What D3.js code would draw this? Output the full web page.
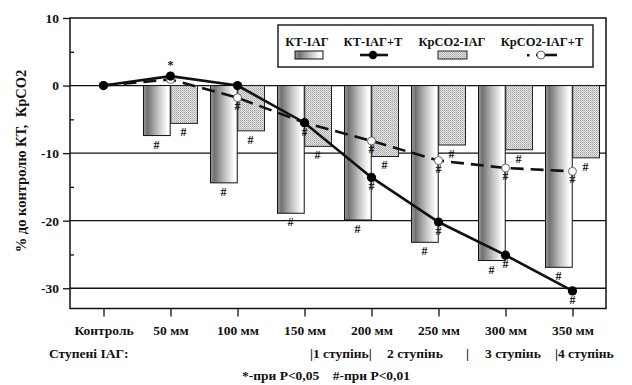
<!DOCTYPE html>
<html><head><meta charset="utf-8">
<script src="https://cdn.jsdelivr.net/npm/d3@7/dist/d3.min.js"></script>
<style>body{margin:0;background:#fff}svg{display:block}svg text{font-family:"Liberation Serif","Times New Roman",serif !important;font-weight:bold;fill:#111;white-space:pre}</style>
</head><body>
<script>
const categories = ["Контроль","50 мм","100 мм","150 мм","200 мм","250 мм","300 мм","350 мм"];
const ktIag      = [null,-7.4,-14.4,-18.9,-19.9,-23.2,-25.9,-26.9];
const co2Iag     = [null,-5.6,-6.7,-9.0,-10.5,-8.8,-9.5,-10.7];
const ktIagT     = [0,1.4,0,-5.5,-13.6,-20.2,-25.1,-30.4];
const co2IagT    = [0,0.9,-1.8,-5.5,-8.2,-11.1,-12.2,-12.7];
const ktIagMark  = ["","#","#","#","#","#","#","#"];
const co2IagMark = ["","#","#","#","#","#","#","#"];
const ktIagTMark = ["","*","","#","#","#","#","#"];
const co2IagTMark= ["","","#","","#","#","#","#"];
const yTicks = [10,0,-10,-20,-30];
const yMinor = [5,-5,-15,-25];
const gridVals = [0,-10,-20,-30];
const legendLabels = ["КТ-ІАГ","КТ-ІАГ+Т","КрCO2-ІАГ","КрCO2-ІАГ+Т"];
const stageLabels = [["|1 ступінь|",310],["2 ступінь",387],["|",466],["3 ступінь",485],["|4 ступінь",555]];

const W=632,H=385, L=70,R=606,T=18,B=308.5;
const svg=d3.select("body").append("svg").attr("width",W).attr("height",H);
const defs=svg.append("defs");
const g1=defs.append("linearGradient").attr("id","ktgrad").attr("x1","0").attr("x2","1").attr("y1","0").attr("y2","0");
[[0,"#9a9a9a"],[0.15,"#727272"],[0.55,"#c4c4c4"],[0.9,"#ffffff"],[1,"#ffffff"]].forEach(s=>g1.append("stop").attr("offset",s[0]).attr("stop-color",s[1]));
const pat=defs.append("pattern").attr("id","dots").attr("width",2).attr("height",2).attr("patternUnits","userSpaceOnUse");
pat.append("rect").attr("width",2).attr("height",2).attr("fill","#e2e2e2");
pat.append("rect").attr("width",1).attr("height",1).attr("fill","#a8a8a8");
pat.append("rect").attr("x",1).attr("y",1).attr("width",1).attr("height",1).attr("fill","#bdbdbd");

const x=d3.scalePoint().domain(categories).range([L,R]).padding(0.5);
const y=d3.scaleLinear().domain([-33,10]).range([B,T]);
const sub=d3.scaleBand().domain(["kt","co2"]).range([-27,27]).paddingInner(0.02);

// gridlines
svg.append("g").selectAll("line").data(gridVals).join("line")
 .attr("x1",L).attr("x2",R).attr("y1",d=>y(d)).attr("y2",d=>y(d)).attr("stroke","#111").attr("stroke-width",1.3);

// bars
const idx=d3.range(categories.length);
svg.append("g").selectAll("rect").data(idx.filter(i=>ktIag[i]!=null)).join("rect")
 .attr("x",i=>x(categories[i])+sub("kt")).attr("width",sub.bandwidth())
 .attr("y",y(0)).attr("height",i=>y(ktIag[i])-y(0))
 .attr("fill","url(#ktgrad)").attr("stroke","#111").attr("stroke-width",1);
svg.append("g").selectAll("rect").data(idx.filter(i=>co2Iag[i]!=null)).join("rect")
 .attr("x",i=>x(categories[i])+sub("co2")).attr("width",sub.bandwidth())
 .attr("y",y(0)).attr("height",i=>y(co2Iag[i])-y(0))
 .attr("fill","url(#dots)").attr("stroke","#222").attr("stroke-width",1);

// frame
svg.append("rect").attr("x",L).attr("y",T).attr("width",R-L).attr("height",B-T).attr("fill","none").attr("stroke","#111").attr("stroke-width",1.5);

// axes
const yAx=svg.append("g").attr("transform",`translate(${L},0)`)
 .call(d3.axisLeft(y).tickValues(yTicks).tickSize(7).tickPadding(4).tickFormat(d=>String(d)));
yAx.attr("font-family",null);
yAx.select(".domain").remove();
yAx.selectAll("text").style("font-size","13.5px");
yAx.selectAll("line").attr("stroke","#111").attr("stroke-width",1.3);
const yMin=svg.append("g").attr("transform",`translate(${L},0)`)
 .call(d3.axisRight(y).tickValues(yMinor).tickSize(4).tickFormat(""));
yMin.select(".domain").remove();
yMin.selectAll("line").attr("stroke","#111").attr("stroke-width",1.3);

const xAx=svg.append("g").attr("transform",`translate(0,${B})`)
 .call(d3.axisBottom(x).tickSize(8).tickPadding(9));
xAx.attr("font-family",null);
xAx.select(".domain").remove();
xAx.selectAll("line").attr("stroke","#111").attr("stroke-width",1.3);
xAx.selectAll("text").style("font-size","13.5px");

// lines
const line=d3.line().x((d,i)=>x(categories[i])).y(d=>y(d));
svg.append("path").datum(co2IagT).attr("d",line).attr("fill","none").attr("stroke","#111").attr("stroke-width",2.6).attr("stroke-dasharray","13,7");
svg.append("path").datum(ktIagT).attr("d",line).attr("fill","none").attr("stroke","#111").attr("stroke-width",2.6);
svg.append("g").selectAll("circle").data(co2IagT).join("circle")
 .attr("cx",(d,i)=>x(categories[i])).attr("cy",d=>y(d)).attr("r",4).attr("fill","#fff").attr("stroke","#444").attr("stroke-width",0.8);
svg.append("g").selectAll("circle").data(ktIagT).join("circle")
 .attr("cx",(d,i)=>x(categories[i])).attr("cy",d=>y(d)).attr("r",4.6).attr("fill","#000");

// significance marks
function marks(vals,labs,dx,dy){
 svg.append("g").selectAll("text").data(idx.filter(i=>labs[i]&&vals[i]!=null)).join("text")
  .attr("x",i=>x(categories[i])+dx).attr("y",i=>y(vals[i])+(labs[i]=="*"?-7:dy))
  .attr("text-anchor","middle").style("font-size","12px").text(i=>labs[i]);
}
marks(ktIag,ktIagMark,-14,13);
marks(co2Iag,co2IagMark,13,13);
marks(ktIagT,ktIagTMark,0,13);
marks(co2IagT,co2IagTMark,0,12);

// legend
const lg=svg.append("g");
lg.append("rect").attr("x",278).attr("y",25).attr("width",315).attr("height",42).attr("fill","#fff").attr("stroke","#222").attr("stroke-width",1.5);
const lx=[307,373,452,542];
lg.selectAll("text").data(legendLabels).join("text").attr("x",(d,i)=>lx[i]).attr("y",46).attr("text-anchor","middle").style("font-size","12.5px").text(d=>d);
lg.append("rect").attr("x",295).attr("y",51).attr("width",28).attr("height",8).attr("fill","url(#ktgrad)").attr("stroke","#111");
lg.append("line").attr("x1",360).attr("x2",388).attr("y1",55).attr("y2",55).attr("stroke","#111").attr("stroke-width",2.6);
lg.append("circle").attr("cx",373).attr("cy",55).attr("r",4.2).attr("fill","#000");
lg.append("rect").attr("x",438).attr("y",51).attr("width",29).attr("height",8).attr("fill","url(#dots)").attr("stroke","#222");
lg.append("rect").attr("x",527).attr("y",54).attr("width",2.5).attr("height",2.5).attr("fill","#111");
lg.append("line").attr("x1",536).attr("x2",557).attr("y1",55).attr("y2",55).attr("stroke","#111").attr("stroke-width",2.6);
lg.append("circle").attr("cx",541).attr("cy",55).attr("r",4).attr("fill","#fff").attr("stroke","#444").attr("stroke-width",0.8);

// y title
svg.append("text").attr("transform","translate(26,161) rotate(-90)").attr("text-anchor","middle").style("font-size","14.5px").text("% до контролю КТ,  КрCO2");

// bottom texts
svg.append("text").attr("x",49).attr("y",358).style("font-size","13.5px").text("Ступені ІАГ:");
svg.append("g").selectAll("text").data(stageLabels).join("text").attr("x",d=>d[1]).attr("y",358).style("font-size","13.5px").text(d=>d[0]);
svg.append("text").attr("x",242).attr("y",380).style("font-size","13.5px").text("*-при P<0,05    #-при P<0,01");
</script>
</body></html>
